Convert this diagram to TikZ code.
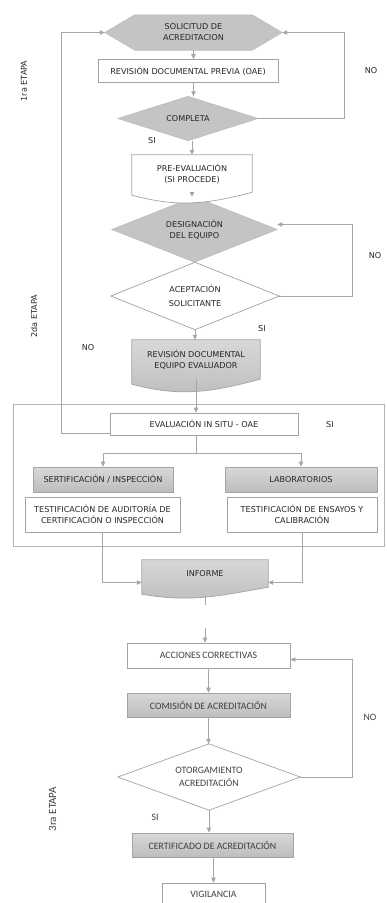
\documentclass[tikz,border=0pt]{standalone}
\usepackage{fontspec}
\setmainfont{Carlito}
\newfontfamily\dvfam{DejaVu Sans}
\usetikzlibrary{arrows.meta,calc}
\pgfdeclarelayer{background}
\pgfsetlayers{background,main}

\definecolor{lgray}{HTML}{A6A6A6}
\definecolor{bgray}{HTML}{A3A3A3}
\definecolor{fgray}{HTML}{B4B4B4}
\definecolor{gfill}{HTML}{C4C4C4}
\definecolor{gedge}{HTML}{BDBDBD}
\definecolor{gtop}{HTML}{D8D8D8}
\definecolor{gbot}{HTML}{BDBDBD}
\definecolor{txtup}{HTML}{262626}
\definecolor{txtlo}{HTML}{404040}

\newcommand\upf{\dvfam\fontsize{8.1}{11}\selectfont}
\newcommand\lof{\fontsize{9.8}{12.5}\selectfont}
\newcommand\lobig{\fontsize{11}{13}\selectfont}

\tikzset{
  ln/.style={draw=lgray, line width=0.8pt},
  arr/.style={ln, -{Triangle[length=5pt,width=4.5pt]}},
  up/.style={font=\upf, text=txtup, align=center},
  lo/.style={font=\lof, text=txtlo, align=center},
  wbox/.style={rectangle, draw=bgray, fill=white, line width=0.7pt, inner sep=0pt},
  gbox/.style={rectangle, draw=bgray, top color=gtop, bottom color=gbot, line width=0.7pt, inner sep=0pt},
  shell/.style={rectangle, inner sep=0pt},
  gshape/.style={fill=gfill, draw=gedge, line width=0.6pt},
  wshape/.style={fill=white, draw=bgray, line width=0.7pt},
  gdoc/.style={top color=gtop, bottom color=gbot, draw=bgray, line width=0.7pt},
  dims/.style 2 args={minimum width=#1pt, minimum height=#2pt},
}

\begin{document}
\begin{tikzpicture}[x=1pt,y=-1pt]
\useasboundingbox (0,0) rectangle (386,903);

% frame around the on-site evaluation group
\node[shell, draw=fgray, line width=0.9pt, dims={371}{142}] (marco) at (198.5,475) {};

% ---- stages 1 and 2 ----
\node[shell,up,dims={177}{35}] (sol) at (193.5,32.5) {SOLICITUD DE\\ACREDITACION};
\node[wbox,up,dims={180}{23}] (rev1) at (188,71) {REVISIÓN DOCUMENTAL PREVIA (OAE)};
\node[shell,up,dims={140}{44}] (comp) at (188,118.5) {COMPLETA};
\node[shell,up,dims={120}{37}] (pre) at (192,173.5) {PRE-EVALUACIÓN\\(SI PROCEDE)};
\node[shell,up,dims={165}{65}] (desig) at (194.5,229.5) {DESIGNACIÓN\\DEL EQUIPO};
\node[shell,up,dims={168}{67}] (acep) at (195,296) {ACEPTACIÓN\\[3pt]SOLICITANTE};
\node[shell,up,dims={128}{39}] (rev2) at (196,359.5) {REVISIÓN DOCUMENTAL\\EQUIPO EVALUADOR};
\node[wbox,up,dims={188}{22}] (eval) at (204,424) {EVALUACIÓN IN SITU - OAE};
\node[gbox,up,dims={140}{25}] (sert) at (103,479.5) {SERTIFICACIÓN / INSPECCIÓN};
\node[gbox,up,dims={152}{25}] (lab) at (301,479.5) {LABORATORIOS};
\node[wbox,up,dims={155}{35}] (test1) at (102.5,514.5) {TESTIFICACIÓN DE AUDITORÍA DE\\CERTIFICACIÓN O INSPECCIÓN};
\node[wbox,up,dims={150}{35}] (test2) at (302,514.5) {TESTIFICACIÓN DE ENSAYOS Y\\CALIBRACIÓN};
\node[shell,up,dims={126}{27}] (inf) at (205,573.5) {INFORME};

% ---- stage 3 ----
\node[wbox,lo,dims={163}{25}] (acc) at (208.5,655.5) {ACCIONES CORRECTIVAS};
\node[gbox,lo,dims={163}{24}] (com) at (208.5,705) {COMISIÓN DE ACREDITACIÓN};
\node[shell,lo,dims={182}{66}] (oto) at (209,777) {OTORGAMIENTO\\ACREDITACIÓN};
\node[gbox,lo,dims={161}{24}] (cert) at (212.5,845) {CERTIFICADO DE ACREDITACIÓN};
\node[wbox,lo,dims={103}{22}] (vig) at (213.5,894) {VIGILANCIA};

% outlines of the non-rectangular shapes
\begin{pgfonlayer}{background}
  \path[gshape] (sol.west) -- ([xshift=30pt]sol.north west) -- ([xshift=-30pt]sol.north east)
     -- (sol.east) -- ([xshift=-30pt]sol.south east) -- ([xshift=30pt]sol.south west) -- cycle;
  \path[gshape] (comp.north) -- (comp.east) -- (comp.south) -- (comp.west) -- cycle;
  \path[gshape] (desig.north) -- (desig.east) -- (desig.south) -- (desig.west) -- cycle;
  \path[wshape] (acep.north) -- (acep.east) -- (acep.south) -- (acep.west) -- cycle;
  \path[wshape] (oto.north) -- (oto.east) -- (oto.south) -- (oto.west) -- cycle;
  \path[wshape] (pre.north west) -- (pre.north east) -- (pre.south east)
     to[out=195,in=-15] ([yshift=-3pt]pre.south west) -- cycle;
  \path[gdoc] (rev2.north west) -- (rev2.north east) -- (rev2.south east)
     to[out=195,in=-15] ([yshift=-5pt]rev2.south west) -- cycle;
  \path[gdoc] (inf.north west) -- (inf.north east) -- (inf.south east)
     to[out=190,in=-10] ([yshift=-7pt]inf.south west) -- cycle;
\end{pgfonlayer}

% main flow
\draw[arr] (sol.south) -- (sol.south |- rev1.north);
\draw[arr] (rev1.south -| sol.south) -- (comp.north -| sol.south);
\draw[arr] (comp.south -| pre.north) -- (pre.north);
\draw[arr] (pre.south) -- (desig.north -| pre.south);
\draw[arr] (acep.south) -- (acep.south |- rev2.north);
\draw[arr] (rev2.south) -- (rev2.south |- eval.north);
\coordinate (split) at (196,453);
\draw[ln] (split |- eval.south) -- (split);
\draw[arr] (split) -| (sert.north);
\draw[arr] (split) -| (lab.north);
\draw[arr] (test1.south) |- ([yshift=-9pt]inf.west);
\draw[arr] (test2.south) |- ([yshift=-9pt]inf.east);
\draw[ln] ([yshift=-9pt]inf.south) -- ++(0,9);
\coordinate (inacc) at (205,628);
\draw[arr] (inacc) -- (inacc |- acc.north);
\draw[arr] (acc.south) -- (acc.south |- com.north);
\draw[arr] (com.south) -- (com.south |- oto.north);
\draw[arr] (oto.south) -- (oto.south |- cert.north);
\draw[arr] (cert.south -| vig.north) -- (vig.north);

% return loops
\draw[arr] ([yshift=2pt]eval.south west) -- ++(-48,0) |- (sol.west);
\draw[arr] (comp.east) -- ++(86,0) |- (sol.east);
\draw[arr] (acep.east) -- ++(73,0) |- ([yshift=5pt]desig.east);
\draw[arr] (oto.east) -- ++(52,0) |- ([yshift=-4pt]acc.east);

% decision labels
\node[up] (no1) at (371,71) {NO};
\node[up] (si1) at (152,141) {SI};
\node[up] (no2) at (375,256) {NO};
\node[up] (si2) at (262,329) {SI};
\node[up] (no3) at (88,348) {NO};
\node[up] (si3) at (330,425) {SI};
\node[lo] (no4) at (370,717) {NO};
\node[lo] (si4) at (155,817) {SI};

% stage captions
\node[up,rotate=90] (e1) at (24,81) {1ra ETAPA};
\node[up,rotate=90] (e2) at (34,316) {2da ETAPA};
\node[lo,font=\lobig,rotate=90] (e3) at (52.5,809) {3ra ETAPA};
\end{tikzpicture}
\end{document}
